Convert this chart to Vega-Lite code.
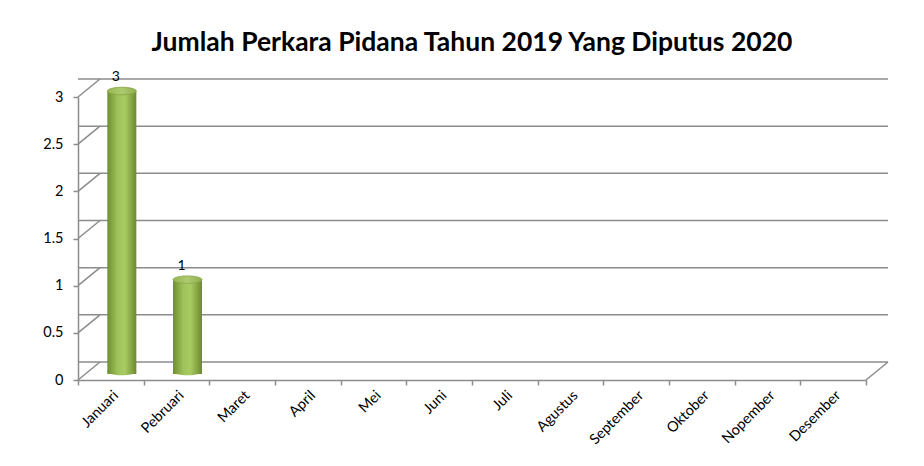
{
  "$schema": "https://vega.github.io/schema/vega-lite/v6.json",
  "autosize": "none",
  "width": 788,
  "height": 283,
  "padding": {"left": 78, "top": 97, "right": 58, "bottom": 86},
  "background": "white",
  "title": {
    "text": "Jumlah Perkara Pidana Tahun 2019 Yang Diputus 2020",
    "font": "Lato",
    "fontSize": 26.5,
    "fontWeight": "bold",
    "color": "#000000",
    "anchor": "middle",
    "frame": "group",
    "offset": 14
  },
  "config": {
    "view": {"stroke": null},
    "axis": {"labelFont": "Lato", "labelFontSize": 14.5, "labelColor": "#000000"}
  },
  "datasets": {
    "months": [
      {"bulan": "Januari", "jumlah": 3},
      {"bulan": "Pebruari", "jumlah": 1},
      {"bulan": "Maret", "jumlah": 0},
      {"bulan": "April", "jumlah": 0},
      {"bulan": "Mei", "jumlah": 0},
      {"bulan": "Juni", "jumlah": 0},
      {"bulan": "Juli", "jumlah": 0},
      {"bulan": "Agustus", "jumlah": 0},
      {"bulan": "September", "jumlah": 0},
      {"bulan": "Oktober", "jumlah": 0},
      {"bulan": "Nopember", "jumlah": 0},
      {"bulan": "Desember", "jumlah": 0}
    ],
    "ticks": [{"v": 0}, {"v": 0.5}, {"v": 1}, {"v": 1.5}, {"v": 2}, {"v": 2.5}, {"v": 3}]
  },
  "layer": [
    {
      "data": {"name": "ticks"},
      "mark": {"type": "rule", "color": "#8c8c8c", "strokeWidth": 1.5, "xOffset": 22, "yOffset": -18},
      "encoding": {
        "y": {"field": "v", "type": "quantitative", "scale": {"domain": [0, 3]},
          "axis": {"title": null, "values": [0, 0.5, 1, 1.5, 2, 2.5, 3], "format": "~g", "tickSize": 5, "tickColor": "#8c8c8c", "tickWidth": 1.5, "domainColor": "#8c8c8c", "domainWidth": 1.5, "labelPadding": 10, "grid": false}}
      }
    },
    {
      "data": {"name": "ticks"},
      "mark": {"type": "rule", "color": "#8c8c8c", "strokeWidth": 1.5, "x2Offset": 22, "y2Offset": -18},
      "encoding": {
        "x": {"datum": "Januari", "type": "nominal", "bandPosition": 0},
        "x2": {"datum": "Januari", "bandPosition": 0},
        "y": {"field": "v", "type": "quantitative"},
        "y2": {"field": "v"}
      }
    },
    {
      "data": {"values": [{"v": 0}]},
      "mark": {"type": "rule", "color": "#8c8c8c", "strokeWidth": 1.5, "x2Offset": 22, "y2Offset": -18},
      "encoding": {
        "x": {"datum": "Desember", "type": "nominal", "bandPosition": 1},
        "x2": {"datum": "Desember", "bandPosition": 1},
        "y": {"field": "v", "type": "quantitative"},
        "y2": {"field": "v"}
      }
    },
    {
      "data": {"name": "months"},
      "transform": [{"filter": "datum.jumlah > 0"}],
      "mark": {"type": "point", "shape": "M-1,0A1,0.26 0 1,0 1,0A1,0.26 0 1,0 -1,0Z", "size": 841, "filled": true, "opacity": 1, "xOffset": 11, "yOffset": -8.5,
        "fill": {"gradient": "linear", "x1": 0, "x2": 1, "y1": 0, "y2": 0, "stops": [{"offset": 0, "color": "#6f8e2f"}, {"offset": 0.35, "color": "#9fc25a"}, {"offset": 0.6, "color": "#a9cb63"}, {"offset": 1, "color": "#6d8a2e"}]}},
      "encoding": {
        "x": {"field": "bulan", "type": "nominal"},
        "y": {"datum": 0, "type": "quantitative"}
      }
    },
    {
      "data": {"name": "months"},
      "transform": [{"filter": "datum.jumlah > 0"}],
      "mark": {"type": "bar", "width": 29, "xOffset": 11, "yOffset": -6, "y2Offset": -8.5,
        "fill": {"gradient": "linear", "x1": 0, "x2": 1, "y1": 0, "y2": 0, "stops": [{"offset": 0, "color": "#6f8e2f"}, {"offset": 0.35, "color": "#9fc25a"}, {"offset": 0.6, "color": "#a9cb63"}, {"offset": 1, "color": "#6d8a2e"}]}},
      "encoding": {
        "x": {"field": "bulan", "type": "nominal", "sort": null,
          "scale": {"domain": ["Januari", "Pebruari", "Maret", "April", "Mei", "Juni", "Juli", "Agustus", "September", "Oktober", "Nopember", "Desember"], "paddingInner": 0, "paddingOuter": 0},
          "axis": {"title": null, "labelAngle": -45, "labelAlign": "right", "labelBaseline": "top", "labelPadding": 3, "tickBand": "extent", "tickSize": 5, "tickColor": "#8c8c8c", "tickWidth": 1.5, "domainColor": "#8c8c8c", "domainWidth": 1.5, "grid": false}},
        "y": {"field": "jumlah", "type": "quantitative"}
      }
    },
    {
      "data": {"name": "months"},
      "transform": [{"filter": "datum.jumlah > 0"}],
      "mark": {"type": "point", "shape": "M-1,0A1,0.26 0 1,0 1,0A1,0.26 0 1,0 -1,0Z", "size": 841, "filled": true, "opacity": 1, "xOffset": 11, "yOffset": -6,
        "fill": {"gradient": "linear", "x1": 0, "x2": 1, "y1": 0, "y2": 0, "stops": [{"offset": 0, "color": "#94b650"}, {"offset": 0.5, "color": "#adcb6f"}, {"offset": 1, "color": "#8fae4c"}]},
        "stroke": "#86a544", "strokeWidth": 0.8},
      "encoding": {
        "x": {"field": "bulan", "type": "nominal"},
        "y": {"field": "jumlah", "type": "quantitative"}
      }
    },
    {
      "data": {"name": "months"},
      "transform": [{"filter": "datum.jumlah > 0"}],
      "mark": {"type": "text", "font": "Lato", "fontSize": 14, "color": "#000000", "baseline": "alphabetic", "xOffset": 5, "yOffset": -16},
      "encoding": {
        "x": {"field": "bulan", "type": "nominal"},
        "y": {"field": "jumlah", "type": "quantitative"},
        "text": {"field": "jumlah", "type": "quantitative"}
      }
    }
  ]
}
